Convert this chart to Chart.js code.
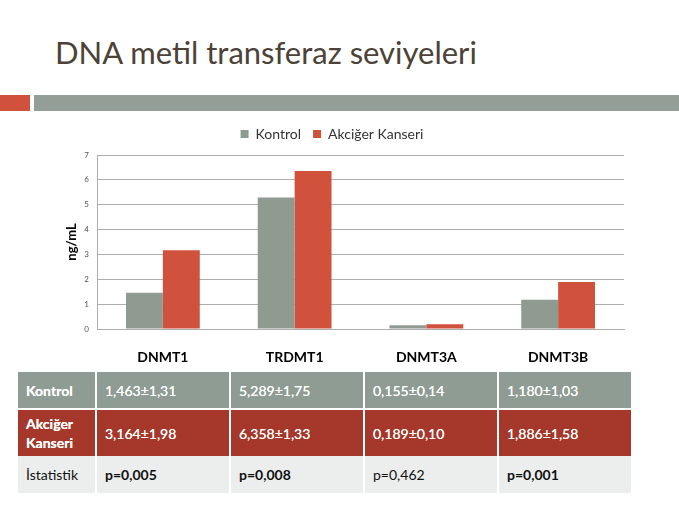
<!DOCTYPE html>
<html>
<head>
<meta charset="utf-8">
<script src="https://cdn.jsdelivr.net/npm/chart.js@4"></script>
<style>
  body { margin: 0; width: 679px; height: 509px; background: #fff; position: relative; overflow: hidden; font-family: Lato, "Open Sans", sans-serif; }
  #title { position: absolute; left: 55px; top: 33px; font-size: 31px; color: #4c4237; white-space: nowrap; }
  #redbar { position: absolute; left: 0; top: 95px; width: 30px; height: 16px; background: #d0523d; }
  #graybar { position: absolute; left: 34px; top: 95px; width: 645px; height: 16px; background: #929e96; }
  #wrap { position: absolute; left: 40px; top: 115px; width: 590px; height: 250px; }
  table { position: absolute; left: 16px; top: 372px; width: 617px; border-collapse: collapse; font-size: 14px; }
  td { padding: 0 8px; border: 2px solid #fff; border-top: none; border-bottom: none; }
  tr.k td { background: #8f9c94; color: #fff; height: 36px; }
  tr.a td { background: #a5382a; color: #fff; height: 46px; border-top: 2px solid #fff; }
  tr.s td { background: #eceeed; color: #111; height: 37px; }
  tr.k td, tr.a td { text-shadow: 0 0 0.4px #fff; }
  td.h { font-weight: bold; line-height: 19px; }
  tr.s td.h { font-weight: normal; }
  td.b { font-weight: bold; }
</style>
</head>
<body>
<div id="title">DNA metil transferaz seviyeleri</div>
<div id="redbar"></div>
<div id="graybar"></div>
<div id="wrap"><canvas id="c"></canvas></div>
<table id="tbl"></table>
<script>
const genes = ['DNMT1', 'TRDMT1', 'DNMT3A', 'DNMT3B'];
const kontrol = [1.463, 5.289, 0.155, 1.180];
const kanser = [3.164, 6.358, 0.189, 1.886];
const kontrolText = ['1,463±1,31', '5,289±1,75', '0,155±0,14', '1,180±1,03'];
const kanserText = ['3,164±1,98', '6,358±1,33', '0,189±0,10', '1,886±1,58'];
const pText = ['p=0,005', 'p=0,008', 'p=0,462', 'p=0,001'];
const pBold = [true, true, false, true];

const tbl = document.getElementById('tbl');
tbl.innerHTML =
  '<tr class="k"><td class="h" style="width:61px">Kontrol</td>' + kontrolText.map(t => '<td>' + t + '</td>').join('') + '</tr>' +
  '<tr class="a"><td class="h">Akciğer<br>Kanseri</td>' + kanserText.map(t => '<td>' + t + '</td>').join('') + '</tr>' +
  '<tr class="s"><td class="h">İstatistik</td>' + pText.map((t, i) => '<td class="' + (pBold[i] ? 'b' : '') + '">' + t + '</td>').join('') + '</tr>';

const grid = '#adadad';
new Chart(document.getElementById('c').getContext('2d'), {
  type: 'bar',
  data: {
    labels: genes,
    datasets: [
      { label: 'Kontrol', data: kontrol, backgroundColor: '#8f9a91', borderWidth: 0 },
      { label: 'Akciğer Kanseri', data: kanser, backgroundColor: '#d0523d', borderWidth: 0 }
    ]
  },
  options: {
    responsive: true,
    maintainAspectRatio: false,
    animation: false,
    layout: { padding: { right: 6 } },
    datasets: { bar: { categoryPercentage: 0.56, barPercentage: 1.0 } },
    plugins: {
      tooltip: { enabled: false },
      legend: {
        position: 'top',
        labels: { boxWidth: 8, boxHeight: 8, padding: 12, color: '#333', font: { family: 'Lato', size: 14 } }
      }
    },
    scales: {
      x: {
        grid: { display: false },
        border: { color: grid },
        ticks: { color: '#000', padding: 12, font: { family: 'Lato', size: 14, weight: 'bold' } },
        afterFit: (s) => { s.height = 36; }
      },
      y: {
        min: 0, max: 7,
        ticks: { stepSize: 1, color: '#555', padding: 8, font: { family: 'Lato', size: 8 } },
        grid: { color: grid, drawTicks: false },
        border: { color: grid },
        title: { display: true, text: 'ng/mL', color: '#000', padding: { top: 24, bottom: 0 }, font: { family: 'Lato', size: 13, weight: 'bold' } },
        afterFit: (s) => { s.width = 57; }
      }
    }
  },
  plugins: [{
    id: 'legendHeight',
    beforeInit(chart) {
      const fit = chart.legend.fit;
      chart.legend.fit = function () { fit.call(this); this.height = 40; };
    }
  }]
});
</script>
</body>
</html>
